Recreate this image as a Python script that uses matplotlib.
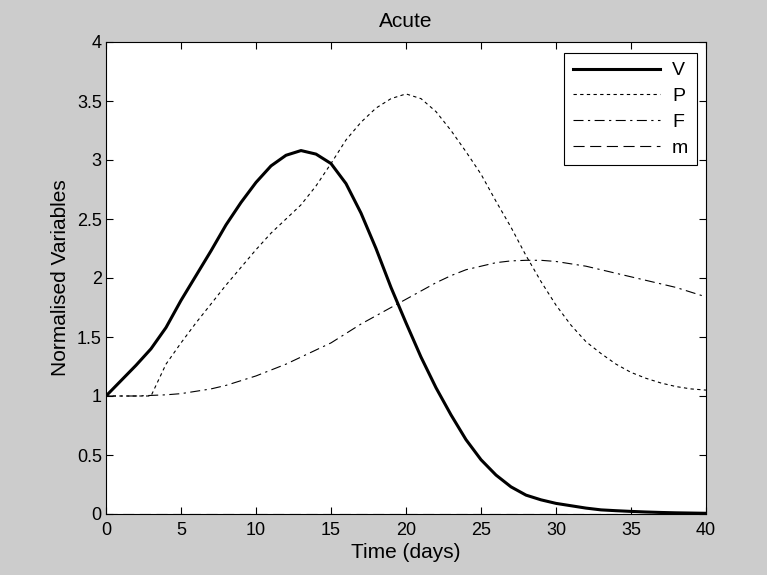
import matplotlib
matplotlib.use('Agg')
import numpy as np
import matplotlib.pyplot as plt

# time grid (days) and normalised variables
t = list(range(0, 41))
V = [1.00, 1.13, 1.26, 1.40, 1.58, 1.81, 2.02, 2.23, 2.45, 2.64,
     2.81, 2.95, 3.04, 3.08, 3.05, 2.97, 2.80, 2.55, 2.25, 1.92,
     1.62, 1.33, 1.07, 0.84, 0.63, 0.46, 0.33, 0.23, 0.16, 0.12,
     0.09, 0.07, 0.05, 0.035, 0.028, 0.022, 0.017, 0.013, 0.010, 0.008, 0.006]
P = [1.00, 1.00, 1.00, 1.00, 1.27, 1.45, 1.62, 1.78, 1.94, 2.09,
     2.24, 2.38, 2.50, 2.62, 2.78, 2.97, 3.17, 3.32, 3.44, 3.52,
     3.56, 3.52, 3.41, 3.25, 3.07, 2.88, 2.65, 2.43, 2.19, 1.97,
     1.77, 1.60, 1.46, 1.36, 1.27, 1.20, 1.15, 1.11, 1.08, 1.06, 1.05]
F = [1.00, 1.00, 1.00, 1.005, 1.01, 1.02, 1.04, 1.06, 1.09, 1.13,
     1.17, 1.22, 1.27, 1.33, 1.39, 1.45, 1.53, 1.61, 1.68, 1.75,
     1.82, 1.89, 1.96, 2.02, 2.07, 2.10, 2.13, 2.145, 2.15, 2.15,
     2.14, 2.12, 2.10, 2.07, 2.04, 2.01, 1.98, 1.95, 1.92, 1.88, 1.84]
m = [0.004] * 41

plt.rcParams['font.family'] = ['Liberation Sans', 'DejaVu Sans']
plt.rcParams['font.size'] = 13

W, H = 767, 575
fig = plt.figure(figsize=(W / 100, H / 100), dpi=100, facecolor='#cccccc')
ax = fig.add_axes([106 / W, 1 - 514 / H, 600 / W, 472 / H])
ax.set_facecolor('white')

ax.plot(t, V, color='black', linewidth=2.2, label='V')
ax.plot(t, P, color='black', linewidth=0.8, dashes=(3, 3), label='P')
ax.plot(t, F, color='black', linewidth=0.8, dashes=(9, 4, 2, 4), label='F')
ax.plot(t, m, color='black', linewidth=0.8, dashes=(10, 5), label='m')

ax.set_xlim(0, 40)
ax.set_ylim(0, 4)
ax.set_xticks(range(0, 41, 5))
ax.set_yticks(np.arange(0, 4.01, 0.5))
ax.set_yticklabels(['0', '0.5', '1', '1.5', '2', '2.5', '3', '3.5', '4'])
ax.tick_params(direction='in', top=True, right=True, length=5, width=0.8,
               labelsize=13, pad=3)
ax.tick_params(axis='x', pad=6)
for s in ax.spines.values():
    s.set_linewidth(0.8)

ax.set_xlabel('Time (days)', fontsize=15, labelpad=3)
ax.set_ylabel('Normalised Variables', fontsize=15, labelpad=5)
ax.set_title('Acute', fontsize=15, pad=11)

leg = ax.legend(loc='upper right', bbox_to_anchor=(697 / W, 1 - 53 / H),
                bbox_transform=fig.transFigure, borderaxespad=0,
                fancybox=False, edgecolor='black', framealpha=1,
                handlelength=4.5, handletextpad=0.6, labelspacing=0.42,
                borderpad=0.45, fontsize=14)
leg.get_frame().set_linewidth(0.8)

fig.savefig('out.png', dpi=100, facecolor=fig.get_facecolor())
